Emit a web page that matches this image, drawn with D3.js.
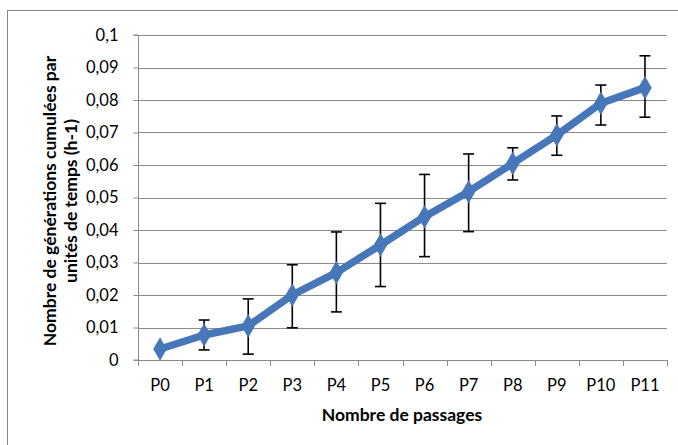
<!DOCTYPE html>
<html><head><meta charset="utf-8">
<script src="https://cdn.jsdelivr.net/npm/d3@7"></script>
<style>body{margin:0;background:#fff}svg{display:block}</style>
</head><body>
<svg id="c" width="678" height="445"></svg>
<script>
const categories = ["P0","P1","P2","P3","P4","P5","P6","P7","P8","P9","P10","P11"];
const values = [0.0034,0.0077,0.0105,0.0200,0.0269,0.0354,0.0441,0.0518,0.0605,0.0692,0.0790,0.0838];
const errUpper = [0.0034,0.0123,0.0188,0.0293,0.0394,0.0482,0.0571,0.0634,0.0653,0.0751,0.0846,0.0936];
const errLower = [0.0034,0.0031,0.0018,0.0099,0.0148,0.0226,0.0318,0.0395,0.0554,0.0630,0.0723,0.0747];
const yTicks = [0,0.01,0.02,0.03,0.04,0.05,0.06,0.07,0.08,0.09,0.1];
const xTitle = "Nombre de passages";
const yTitle = ["Nombre de générations cumulées par","unités  de temps (h-1)"];

const svg = d3.select("#c");
const font = "Lato, 'Open Sans', sans-serif";
const mLeft = 138, mRight = 667, mTop = 35, mBottom = 360;

// outer border
svg.append("rect").attr("x",7.5).attr("y",10.5).attr("width",700).attr("height",500)
  .attr("fill","none").attr("stroke","#878787").attr("stroke-width",1);

const x = d3.scaleBand().domain(categories).range([mLeft,mRight]).padding(0);
const y = d3.scaleLinear().domain([0,0.1]).range([mBottom,mTop]);

// gridlines
svg.append("g").selectAll("line").data(yTicks.filter(d=>d>0)).join("line")
  .attr("x1",mLeft).attr("x2",mRight)
  .attr("y1",d=>Math.round(y(d))+0.5).attr("y2",d=>Math.round(y(d))+0.5)
  .attr("stroke","#8a8a8a").attr("stroke-width",1);

const fmt = d => String(d).replace(".",",");
const yAxis = svg.append("g").attr("transform",`translate(${mLeft+0.5},0)`)
  .call(d3.axisLeft(y).tickValues(yTicks).tickFormat(fmt).tickSize(5).tickPadding(15));
yAxis.select(".domain").attr("stroke","#8a8a8a").attr("d",`M-5,${mBottom}H0V${mTop}H-5`);
yAxis.selectAll(".tick line").attr("stroke","#8a8a8a");
yAxis.selectAll(".tick text").attr("font-family",font).attr("font-size","16.5px").attr("fill","#000");

const xAxis = svg.append("g").attr("transform",`translate(0,${mBottom+0.5})`)
  .call(d3.axisBottom(x).tickSize(0).tickPadding(19));
xAxis.select(".domain").attr("stroke","#8a8a8a").attr("d",`M${mLeft},0H${mRight}`);
xAxis.selectAll(".tick text").attr("font-family",font).attr("font-size","16.5px").attr("fill","#000");
// category boundary ticks
const bounds = categories.map(c=>x(c)).concat([mRight]);
svg.append("g").selectAll("line").data(bounds).join("line")
  .attr("x1",d=>Math.round(d)+0.5).attr("x2",d=>Math.round(d)+0.5)
  .attr("y1",mBottom).attr("y2",mBottom+6)
  .attr("stroke","#8a8a8a");

const cx = c => x(c) + x.bandwidth()/2;

// error bars
const eb = svg.append("g").attr("stroke","#000").attr("stroke-width",1.6);
categories.forEach((c,i)=>{
  if (errUpper[i]-errLower[i] < 0.0005) return;
  const px = cx(c);
  eb.append("line").attr("x1",px).attr("x2",px).attr("y1",y(errUpper[i])).attr("y2",y(errLower[i]));
  eb.append("line").attr("x1",px-5.5).attr("x2",px+5.5).attr("y1",y(errUpper[i])).attr("y2",y(errUpper[i]));
  eb.append("line").attr("x1",px-5.5).attr("x2",px+5.5).attr("y1",y(errLower[i])).attr("y2",y(errLower[i]));
});

// soft glow filter
const defs = svg.append("defs");
defs.append("filter").attr("id","soft").attr("x","-10%").attr("y","-10%").attr("width","120%").attr("height","120%")
  .append("feGaussianBlur").attr("stdDeviation",0.6);

const data = categories.map((c,i)=>({c, v: values[i]}));
const g = svg.append("g").attr("filter","url(#soft)");
g.append("path").datum(data)
  .attr("d", d3.line().x(d=>cx(d.c)).y(d=>y(d.v)))
  .attr("fill","none").attr("stroke","#4677b8").attr("stroke-width",7.5).attr("stroke-linejoin","round");
g.selectAll("path.m").data(data).join("path").attr("class","m")
  .attr("d", d3.symbol(d3.symbolDiamond, 160)())
  .attr("transform", d=>`translate(${cx(d.c)},${y(d.v)})`)
  .attr("fill","#4677b8");

// titles
svg.append("text").attr("x",402).attr("y",421).attr("text-anchor","middle")
  .attr("font-family",font).attr("font-weight","bold").attr("font-size","17.5px").text(xTitle);
yTitle.forEach((t,i)=>{
  svg.append("text").attr("transform",`translate(${56+i*21},201) rotate(-90)`)
    .attr("text-anchor","middle").attr("font-family",font).attr("font-weight","bold")
    .attr("font-size","17.5px").attr("fill","#000").text(t);
});
</script>
</body></html>
